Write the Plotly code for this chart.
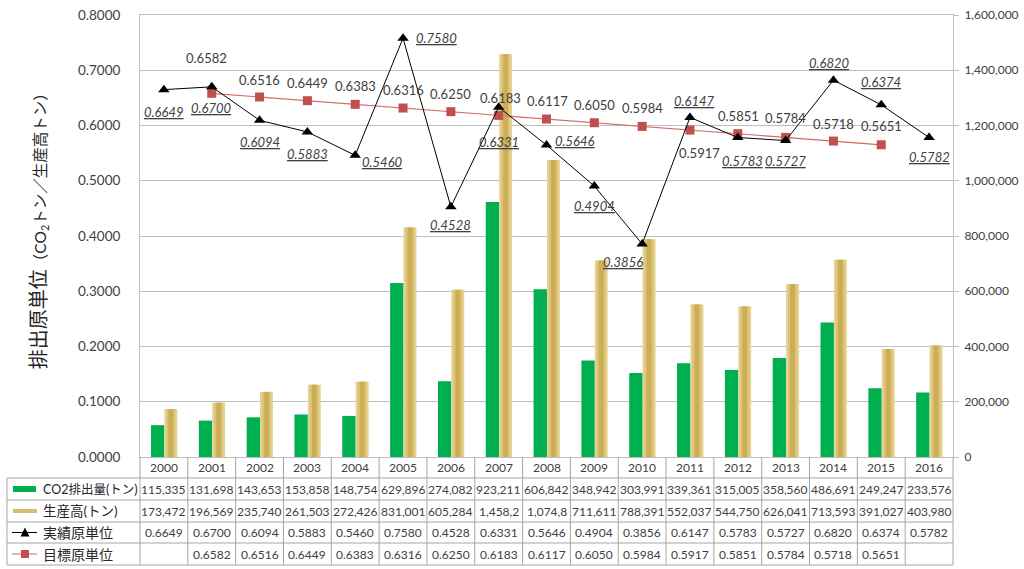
import plotly.graph_objects as go

# ---------------- data ----------------
years = list(range(2000, 2017))
co2 = [115335, 131698, 143653, 153858, 148754, 629896, 274082, 923211, 606842,
       348942, 303991, 339361, 315005, 358560, 486691, 249247, 233576]
production = [173472, 196569, 235740, 261503, 272426, 831001, 605284, 1458239, 1074817,
              711611, 788391, 552037, 544750, 626041, 713593, 391027, 403980]
actual = [0.6649, 0.6700, 0.6094, 0.5883, 0.5460, 0.7580, 0.4528, 0.6331, 0.5646,
          0.4904, 0.3856, 0.6147, 0.5783, 0.5727, 0.6820, 0.6374, 0.5782]
target_years = list(range(2001, 2016))
target = [0.6582, 0.6516, 0.6449, 0.6383, 0.6316, 0.6250, 0.6183, 0.6117, 0.6050,
          0.5984, 0.5917, 0.5851, 0.5784, 0.5718, 0.5651]
row_labels = ["CO2排出量(トン)", "生産高(トン)", "実績原単位", "目標原単位"]

# label offsets (styling, px)
act_dx = [0, 0, 0, 0, 27, 33, 0, 0, 28, 0, -19, 5, 5, 0, -4, 0, 0]
act_dy = [-22, -21, -22, -22, -7, 0, -18, -35, 4, -20, -18, 16, -24, -20, 17, 23, -19]
tgt_dx = [-5, 0, 0, 0, 0, 0, 2, 1, 0, 0, 10, 1, 0, 0, 0]
tgt_dy = [35, 17, 18, 18, 18, 18, 17, 18, 18, 18, -23, 18, 19, 17, 19]

# ---------------- layout geometry ----------------
W, H = 1024, 569
L, R, T, B = 140, 953, 15, 457
FONT = "Lato, 'Noto Sans CJK JP', sans-serif"
TXT = "#404040"
GRID = "#BFBFBF"
TLINE = "#A6A6A6"
GREEN = "#00B050"
RED = "#C0504D"
CELL_CHARS = 7  # table cells show at most this many characters (overflow is cut)


def px_x(p):
    return (p - L) / (R - L)


def px_y(p):
    return (B - p) / (B - T)


fig = go.Figure()

# bars on primary (right) axis
fig.add_trace(go.Bar(x=years, y=co2, yaxis="y", marker_color=GREEN,
                     offset=-0.27, width=0.28, marker_line_width=0, name="CO2"))
gold_layers = [(0.01, 0.27, "#E6D393"), (0.05, 0.19, "#DBC377"), (0.095, 0.10, "#CCAE58")]
for off, w, c in gold_layers:
    fig.add_trace(go.Bar(x=years, y=production, yaxis="y", marker_color=c,
                         offset=off, width=w, marker_line_width=0, name="prod"))

# lines on overlaying (left) axis
fig.add_trace(go.Scatter(x=target_years, y=target, yaxis="y2", mode="lines+markers",
                         line=dict(color="#D06A67", width=1.2),
                         marker=dict(symbol="square", size=9, color=RED), name="target"))
fig.add_trace(go.Scatter(x=years, y=actual, yaxis="y2", mode="lines+markers",
                         line=dict(color="#000000", width=1),
                         marker=dict(symbol="triangle-up", size=10, color="#000000"), name="actual"))

ann = []
# data labels
for yr, v, dx, dy in zip(years, actual, act_dx, act_dy):
    ann.append(dict(x=yr, y=v, xref="x", yref="y2", text=f"<i><u>{v:.4f}</u></i>",
                    showarrow=False, xshift=dx, yshift=dy,
                    font=dict(size=13, color=TXT, family=FONT)))
for yr, v, dx, dy in zip(target_years, target, tgt_dx, tgt_dy):
    ann.append(dict(x=yr, y=v, xref="x", yref="y2", text=f"{v:.4f}",
                    showarrow=False, xshift=dx, yshift=dy,
                    font=dict(size=13, color=TXT, family=FONT)))

# y-axis title
ann.append(dict(x=px_x(38), y=0.52, xref="paper", yref="paper", textangle=-90,
                xanchor="center", yanchor="middle",
                text="排出原単位<span style='font-size:15.5px'>（CO<sub>2</sub>トン／生産高トン）</span>",
                showarrow=False, font=dict(size=20, color="#262626", family=FONT)))

# table
n = len(years)
row_edges = [478, 500, 522, 543, 565]
row_centers = [(row_edges[i] + row_edges[i + 1]) / 2 for i in range(4)]
shapes = []
for e in row_edges:
    shapes.append(dict(type="line", xref="paper", yref="paper", x0=px_x(7), x1=1,
                       y0=px_y(e), y1=px_y(e), line=dict(color=TLINE, width=1)))
shapes.append(dict(type="line", xref="paper", yref="paper", x0=px_x(7), x1=px_x(7),
                   y0=px_y(478), y1=px_y(565), line=dict(color=TLINE, width=1)))
for i in range(n + 1):
    xv = i / n
    shapes.append(dict(type="line", xref="paper", yref="paper", x0=xv, x1=xv,
                       y0=0, y1=px_y(565), line=dict(color=TLINE, width=1)))

# legend keys in the table
shapes.append(dict(type="rect", xref="paper", yref="paper", x0=px_x(13), x1=px_x(36),
                   y0=px_y(492), y1=px_y(486), fillcolor=GREEN, line=dict(width=0)))
shapes.append(dict(type="rect", xref="paper", yref="paper", x0=px_x(13), x1=px_x(37),
                   y0=px_y(513), y1=px_y(509), fillcolor="#D6BE6E", line=dict(width=0)))
yk = row_centers[2]
shapes.append(dict(type="line", xref="paper", yref="paper", x0=px_x(12), x1=px_x(37),
                   y0=px_y(yk), y1=px_y(yk), line=dict(color="#000000", width=1)))
shapes.append(dict(type="path", xref="paper", yref="paper",
                   path=f"M {px_x(20.5)} {px_y(yk+4)} L {px_x(29.5)} {px_y(yk+4)} L {px_x(25)} {px_y(yk-5)} Z",
                   fillcolor="#000000", line=dict(width=0)))
yk = row_centers[3]
shapes.append(dict(type="line", xref="paper", yref="paper", x0=px_x(12), x1=px_x(37),
                   y0=px_y(yk), y1=px_y(yk), line=dict(color="#D06A67", width=1)))
shapes.append(dict(type="rect", xref="paper", yref="paper", x0=px_x(21), x1=px_x(29),
                   y0=px_y(yk + 4), y1=px_y(yk - 4), fillcolor=RED, line=dict(width=0)))

cell = dict(showarrow=False, xanchor="center", yanchor="middle")
label_sizes = [12.5, 13.5, 14, 14]
for lbl, yc, fs in zip(row_labels, row_centers, label_sizes):
    ann.append(dict(x=px_x(41), y=px_y(yc), xref="paper", yref="paper", text=lbl,
                    xanchor="left", yanchor="middle", showarrow=False,
                    font=dict(size=fs, color="#262626", family=FONT)))

for yr in years:
    ann.append(dict(x=yr, y=px_y(467.5), xref="x", yref="paper", text=str(yr),
                    font=dict(size=12, color=TXT, family=FONT), **cell))
for yr, v in zip(years, co2):
    ann.append(dict(x=yr, y=px_y(row_centers[0]), xref="x", yref="paper", text=f"{v:,}",
                    font=dict(size=12, color=TXT, family=FONT), **cell))
for yr, v in zip(years, production):
    ann.append(dict(x=yr, y=px_y(row_centers[1]), xref="x", yref="paper",
                    text=f"{v:,}"[:CELL_CHARS],
                    font=dict(size=12, color=TXT, family=FONT), **cell))
for yr, v in zip(years, actual):
    ann.append(dict(x=yr, y=px_y(row_centers[2]), xref="x", yref="paper", text=f"{v:.4f}",
                    font=dict(size=12, color=TXT, family=FONT), **cell))
for yr, v in zip(target_years, target):
    ann.append(dict(x=yr, y=px_y(row_centers[3]), xref="x", yref="paper", text=f"{v:.4f}",
                    font=dict(size=12, color=TXT, family=FONT), **cell))

fig.update_layout(
    width=W, height=H,
    margin=dict(l=L, r=W - R, t=T, b=H - B, autoexpand=False),
    paper_bgcolor="white", plot_bgcolor="white",
    barmode="overlay", showlegend=False,
    font=dict(family=FONT, color=TXT),
    xaxis=dict(range=[years[0] - 0.5, years[-1] + 0.5], tickvals=years,
               showticklabels=False, showgrid=False, zeroline=False,
               showline=True, mirror=True, linecolor=GRID, ticks=""),
    yaxis=dict(side="right", range=[0, 1600000], dtick=200000, tickformat=",",
               showgrid=True, gridcolor=GRID, zeroline=False, showline=True,
               linecolor=GRID, ticks="outside", ticklen=5, tickcolor=GRID,
               ticklabelstandoff=3, tickfont=dict(size=12, color=TXT, family=FONT)),
    yaxis2=dict(overlaying="y", side="left", range=[0, 0.8], dtick=0.1, tickformat=".4f",
                showgrid=False, zeroline=False, showline=True, linecolor=GRID,
                ticks="outside", ticklen=16, tickcolor="rgba(0,0,0,0)",
                tickfont=dict(size=13.5, color=TXT, family=FONT)),
    annotations=ann, shapes=shapes,
)

fig.write_html("out.html", config={"displayModeBar": False},
               post_script="document.body.style.margin='0';document.body.style.padding='0';")
